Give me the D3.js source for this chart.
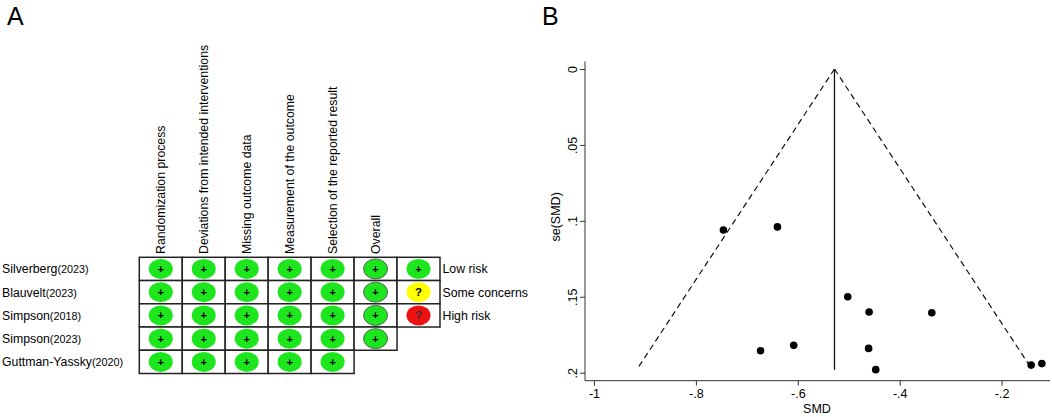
<!DOCTYPE html>
<html>
<head>
<meta charset="utf-8">
<script src="https://cdn.jsdelivr.net/npm/d3@7"></script>
<style>
  html, body { margin: 0; padding: 0; background: #fff; }
  svg { display: block; font-family: "Liberation Sans", Arial, sans-serif; }
</style>
</head>
<body>
<svg id="chart" width="1052" height="417"></svg>
<script>
// ---- panel A data ----
const studyNames = ['Silverberg', 'Blauvelt', 'Simpson', 'Simpson', 'Guttman-Yassky'];
const studyYears = ['(2023)', '(2023)', '(2018)', '(2023)', '(2020)'];
const domains = [
  'Randomization process',
  'Deviations from intended interventions',
  'Missing outcome data',
  'Measurement of the outcome',
  'Selection of the reported result',
  'Overall'
];
// one row per study; the last column of the first three rows holds the legend key
const judgments = [
  ['low', 'low', 'low', 'low', 'low', 'low', 'low'],
  ['low', 'low', 'low', 'low', 'low', 'low', 'some'],
  ['low', 'low', 'low', 'low', 'low', 'low', 'high'],
  ['low', 'low', 'low', 'low', 'low', 'low'],
  ['low', 'low', 'low', 'low', 'low']
];
const legendLabels = ['Low risk', 'Some concerns', 'High risk'];

// ---- panel B data ----
const smd = [-0.746, -0.640, -0.673, -0.502, -0.460, -0.337, -0.608, -0.461, -0.447, -0.142, -0.121];
const seSmd = [0.106, 0.104, 0.1855, 0.150, 0.160, 0.1605, 0.182, 0.184, 0.198, 0.195, 0.194];
const pooledSmd = -0.528;
const maxSe = 0.198;
const xTicks = [-1, -0.8, -0.6, -0.4, -0.2];
const yTicks = [0, 0.05, 0.1, 0.15, 0.2];

const riskColor = { low: '#1ee61e', some: '#ffff00', high: '#ee1111' };
const riskSymbol = { low: '+', some: '?', high: '?' };

const svg = d3.select('#chart');

// panel letters
svg.append('text').attr('x', 7).attr('y', 25).attr('font-size', 25).text('A');
svg.append('text').attr('x', 542).attr('y', 25).attr('font-size', 25).text('B');

// ================= Panel A: risk of bias table =================
const colX = d3.scaleBand().domain(d3.range(7)).range([139.3, 440]);
const rowY = d3.scaleBand().domain(d3.range(studyNames.length)).range([257.3, 373.5]);

const pA = svg.append('g');

// column headings
pA.selectAll('.dom')
  .data(domains)
  .join('text')
  .attr('class', 'dom')
  .attr('transform', (d, i) => `translate(${colX(i) + colX.bandwidth() / 2 + 4},254) rotate(-90)`)
  .attr('font-size', 12.3)
  .text(d => d);

// study labels
const lab = pA.selectAll('.study')
  .data(studyNames)
  .join('text')
  .attr('class', 'study')
  .attr('x', 2)
  .attr('y', (d, i) => rowY(i) + rowY.bandwidth() / 2 + 4.5)
  .attr('font-size', 12.3);
lab.append('tspan').text(d => d);
lab.append('tspan').attr('font-size', 10.8).text((d, i) => studyYears[i]);

// cells
const cells = judgments.flatMap((row, r) => row.map((v, c) => ({ r, c, v })));
const cg = pA.selectAll('.cell')
  .data(cells)
  .join('g')
  .attr('class', 'cell')
  .attr('transform', d => `translate(${colX(d.c)},${rowY(d.r)})`);

cg.append('rect')
  .attr('width', colX.bandwidth())
  .attr('height', rowY.bandwidth())
  .attr('fill', '#fff')
  .attr('stroke', '#222')
  .attr('stroke-width', 1.5);

cg.append('ellipse')
  .attr('cx', colX.bandwidth() / 2)
  .attr('cy', rowY.bandwidth() / 2)
  .attr('rx', 12)
  .attr('ry', 10)
  .attr('fill', d => riskColor[d.v])
  .attr('stroke', d => d.c === 5 ? '#555' : 'none')
  .attr('stroke-width', 0.9);

cg.append('text')
  .attr('x', colX.bandwidth() / 2)
  .attr('y', rowY.bandwidth() / 2 + 4)
  .attr('text-anchor', 'middle')
  .attr('font-size', d => d.v === 'low' ? 11 : 11.5)
  .attr('font-weight', 'bold')
  .attr('fill', d => d.v === 'high' ? '#333' : '#000')
  .text(d => riskSymbol[d.v]);

// legend text beside the key column
pA.selectAll('.leg')
  .data(legendLabels)
  .join('text')
  .attr('class', 'leg')
  .attr('x', 442.5)
  .attr('y', (d, i) => rowY(i) + rowY.bandwidth() / 2 + 4.5)
  .attr('font-size', 12.3)
  .text(d => d);

// ================= Panel B: funnel plot =================
const x = d3.scaleLinear().domain([-1, -0.2]).range([594, 1001.6]);
const y = d3.scaleLinear().domain([0, 0.2]).range([69, 372.7]);
// Stata style labels: no leading zero, plain hyphen
const fmt = v => String(+v.toFixed(2)).replace('0.', '.');

const pB = svg.append('g');

// axis lines
pB.append('line')
  .attr('x1', 585).attr('x2', 585)
  .attr('y1', y(-0.005)).attr('y2', 380.7)
  .attr('stroke', '#333').attr('stroke-width', 1);
pB.append('line')
  .attr('x1', 585).attr('x2', x(-0.105))
  .attr('y1', 380.7).attr('y2', 380.7)
  .attr('stroke', '#333').attr('stroke-width', 1);

const yAxis = pB.append('g')
  .attr('transform', 'translate(585,0)')
  .call(d3.axisLeft(y).tickValues(yTicks).tickSize(5).tickFormat(fmt));
yAxis.select('.domain').remove();
yAxis.selectAll('line').attr('stroke', '#333');
yAxis.selectAll('.tick text')
  .attr('font-family', '"Liberation Sans", Arial, sans-serif')
  .attr('font-size', 12.5)
  .attr('fill', '#000')
  .attr('text-anchor', 'middle')
  .attr('dy', 0)
  .attr('x', 0)
  .attr('transform', 'translate(-8,0) rotate(-90)');

const xAxis = pB.append('g')
  .attr('transform', 'translate(0,380.7)')
  .call(d3.axisBottom(x).tickValues(xTicks).tickSize(5).tickFormat(fmt));
xAxis.select('.domain').remove();
xAxis.selectAll('line').attr('stroke', '#333');
xAxis.selectAll('text')
  .attr('font-family', '"Liberation Sans", Arial, sans-serif')
  .attr('font-size', 12.5)
  .attr('fill', '#000')
  .attr('y', 8);

pB.append('text')
  .attr('x', 817).attr('y', 413)
  .attr('text-anchor', 'middle')
  .attr('font-size', 12.5)
  .text('SMD');
pB.append('text')
  .attr('transform', `translate(560,${y(0.1) - 4}) rotate(-90)`)
  .attr('text-anchor', 'middle')
  .attr('font-size', 12.5)
  .text('se(SMD)');

// pseudo 95% confidence limits
const half = 1.96 * maxSe;
const funnel = [
  [[pooledSmd, 0], [pooledSmd - half, maxSe]],
  [[pooledSmd, 0], [pooledSmd + half, maxSe]]
];
pB.selectAll('.limit')
  .data(funnel)
  .join('line')
  .attr('class', 'limit')
  .attr('x1', d => x(d[0][0])).attr('y1', d => y(d[0][1]))
  .attr('x2', d => x(d[1][0])).attr('y2', d => y(d[1][1]))
  .attr('stroke', '#111')
  .attr('stroke-width', 1.2)
  .attr('stroke-dasharray', '6,4');

pB.append('line')
  .attr('x1', x(pooledSmd)).attr('x2', x(pooledSmd))
  .attr('y1', y(0)).attr('y2', y(maxSe))
  .attr('stroke', '#111')
  .attr('stroke-width', 1.3);

pB.selectAll('.pt')
  .data(smd.map((v, i) => ({ v, se: seSmd[i] })))
  .join('circle')
  .attr('class', 'pt')
  .attr('cx', d => x(d.v))
  .attr('cy', d => y(d.se))
  .attr('r', 3.8)
  .attr('fill', '#000');
</script>
</body>
</html>
